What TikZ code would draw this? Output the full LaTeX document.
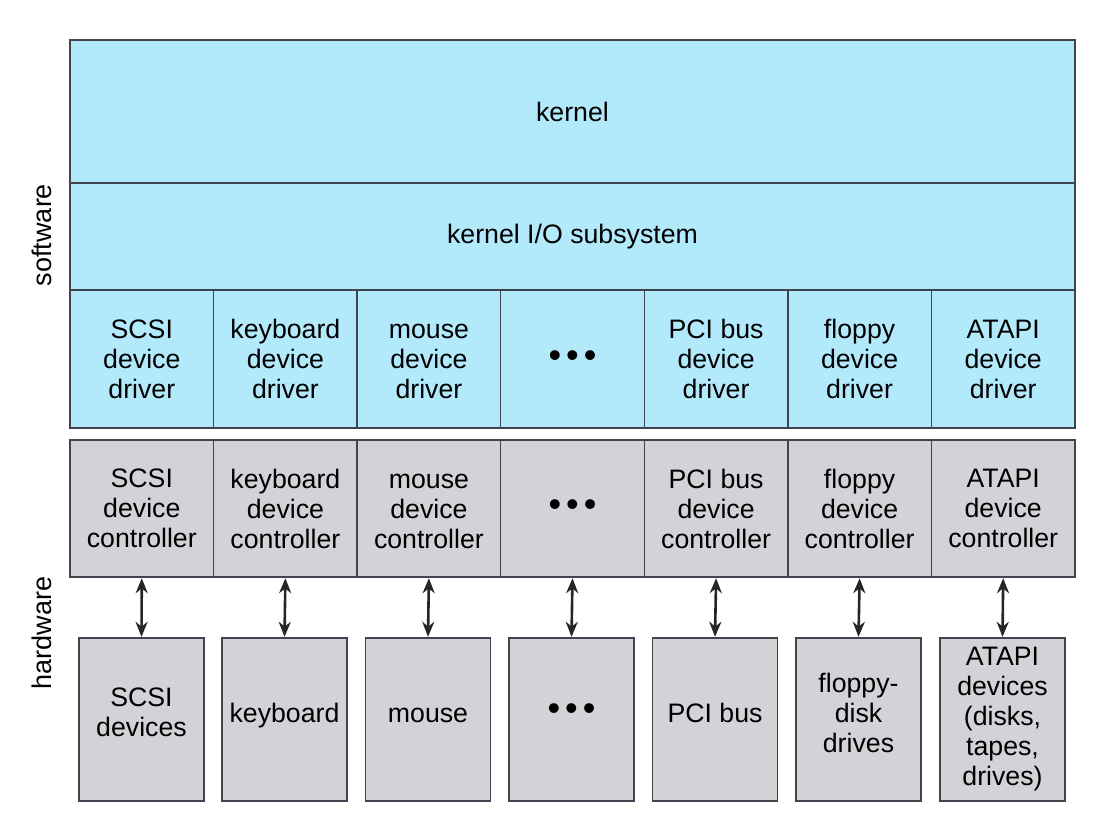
\documentclass[tikz,border=0pt]{standalone}
\usepackage{fontspec}
\setmainfont{Liberation Sans}
\usetikzlibrary{arrows.meta, positioning}

\definecolor{swblue}{RGB}{178,234,252}
\definecolor{hwgray}{RGB}{211,210,215}
\definecolor{edgegray}{RGB}{64,68,78}

\newcommand{\threedots}{{\fontsize{36}{36}\selectfont •\hspace{5pt}•\hspace{5pt}•}}
\newcommand{\capline}{\rule{0pt}{19.5pt}}

\begin{document}
\begin{tikzpicture}[x=1pt, y=-1pt,
    layer/.style={draw=edgegray, line width=1.4pt, inner sep=0pt, align=center,
      font=\fontsize{26.7}{30}\selectfont},
    swbox/.style={layer, fill=swblue},
    hwbox/.style={layer, fill=hwgray},
    drvbox/.style={swbox, minimum width=143.6pt, minimum height=138pt},
    ctlbox/.style={hwbox, minimum width=143.6pt, minimum height=137pt},
    devbox/.style={hwbox, minimum width=125pt, minimum height=163pt},
    raised/.style={execute at end node={\rule[-14pt]{0pt}{0pt}}},
    side/.style={font=\fontsize{27}{30}\selectfont, rotate=90},
    duplex/.style={draw=black!85, line width=2.6pt, shorten <=0.5pt, shorten >=0.5pt,
      arrows={Stealth[length=15pt,width=12pt]-Stealth[length=15pt,width=12pt]}}]
  \useasboundingbox (0,0) rectangle (1115,830);

  % software side
  \node[swbox, minimum width=1005pt, minimum height=143pt] (kernel) at (572.5,111.5) {kernel};
  \node[swbox, minimum width=1005pt, minimum height=107pt] (kio) at (572.5,236.5) {kernel I/O subsystem};

  \node[drvbox] (d1) at (141.8,359) {SCSI\\device\\driver};
  \node[drvbox] (d2) at (285.4,359) {keyboard\\device\\driver};
  \node[drvbox] (d3) at (428.9,359) {\capline mouse\\device\\driver};
  \node[drvbox] (d4) at (572.5,359) {\threedots};
  \node[drvbox] (d5) at (716.1,359) {PCI bus\\device\\driver};
  \node[drvbox] (d6) at (859.6,359) {floppy\\device\\driver};
  \node[drvbox] (d7) at (1003.2,359) {ATAPI\\device\\driver};

  % hardware side
  \node[ctlbox] (c1) at (141.8,508.5) {SCSI\\device\\controller};
  \node[ctlbox] (c2) at (285.4,508.5) {keyboard\\device\\controller};
  \node[ctlbox] (c3) at (428.9,508.5) {\capline mouse\\device\\controller};
  \node[ctlbox] (c4) at (572.5,508.5) {\threedots};
  \node[ctlbox] (c5) at (716.1,508.5) {PCI bus\\device\\controller};
  \node[ctlbox] (c6) at (859.6,508.5) {floppy\\device\\controller};
  \node[ctlbox] (c7) at (1003.2,508.5) {ATAPI\\device\\controller};

  \node[devbox, raised] (v1) at (141.5,719.5) {SCSI\\devices};
  \node[devbox, raised] (v2) at (284.5,719.5) {keyboard};
  \node[devbox, raised] (v3) at (428,719.5) {\capline mouse};
  \node[devbox, raised] (v4) at (571.5,719.5) {\threedots};
  \node[devbox, raised] (v5) at (715,719.5) {PCI bus};
  \node[devbox, raised] (v6) at (858.5,719.5) {floppy-\\disk\\drives};
  \node[devbox] (v7) at (1002.5,719.5) {ATAPI\\devices\\(disks,\\tapes,\\drives)};

  \draw[duplex] (c1.south) -- (v1.north);
  \draw[duplex] (c2.south) -- (v2.north);
  \draw[duplex] (c3.south) -- (v3.north);
  \draw[duplex] (c4.south) -- (v4.north);
  \draw[duplex] (c5.south) -- (v5.north);
  \draw[duplex] (c6.south) -- (v6.north);
  \draw[duplex] (c7.south) -- (v7.north);

  \node[side] (sw) at (42,235) {software};
  \node[side] (hw) at (42,633) {hardware};
\end{tikzpicture}
\end{document}
